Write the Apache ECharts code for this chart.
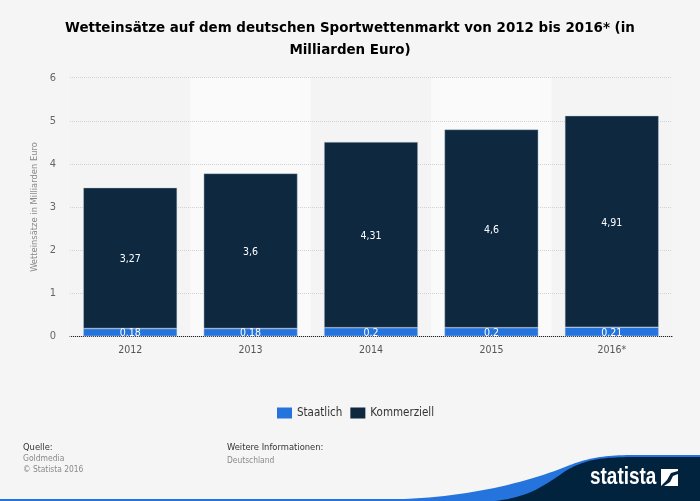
<!DOCTYPE html>
<html><head><meta charset="utf-8">
<style>html,body{margin:0;padding:0;background:#f5f5f5}#c{width:700px;height:501px}</style>
<script src="https://cdn.jsdelivr.net/npm/echarts@6/dist/echarts.min.js"></script></head>
<body><div id="c"></div>
<script>
const categories = ['2012','2013','2014','2015','2016*'];
const staatlich = [0.18,0.18,0.2,0.2,0.21];
const kommerziell = [3.27,3.6,4.31,4.6,4.91];
const staatlichLabels = ['0.18','0.18','0.2','0.2','0.21'];
const kommerziellLabels = ['3,27','3,6','4,31','4,6','4,91'];
const yTicks = [0,1,2,3,4,5,6];
const titleText = 'Wetteinsätze auf dem deutschen Sportwettenmarkt von 2012 bis 2016* (in\nMilliarden Euro)';
const F = '"DejaVu Sans Condensed","DejaVu Sans",sans-serif';
function bez(p0,p1,p2,p3,n=24){const o=[];for(let i=0;i<=n;i++){const t=i/n,u=1-t;
  o.push([u*u*u*p0[0]+3*u*u*t*p1[0]+3*u*t*t*p2[0]+t*t*t*p3[0],u*u*u*p0[1]+3*u*u*t*p1[1]+3*u*t*t*p2[1]+t*t*t*p3[1]]);}return o;}
const swooshBlue = [[0,499],...bez([405,499],[470,496],[525,483],[565,467]),...bez([565,467],[585,459],[600,455],[635,455]).slice(1),[700,455],[700,501],[0,501]];
const swooshDark = [...bez([495,501],[530,497],[545,485],[567,470]),...bez([567,470],[585,460],[600,457],[635,457]).slice(1),[700,457],[700,501]];
const chart = echarts.init(document.getElementById('c'), null, {renderer:'canvas'});
const edge = {borderColor:'rgba(190,205,220,0.75)',borderWidth:0.6};
chart.setOption({
  animation:false,
  backgroundColor:'#f5f5f5',
  textStyle:{fontFamily:F},
  title:{text:titleText,left:'center',top:13,
    textStyle:{fontFamily:'"DejaVu Sans",sans-serif',fontSize:13.45,fontWeight:'bold',color:'#000',lineHeight:21.5}},
  legend:{data:['Staatlich','Kommerziell'],left:272,top:402,itemWidth:15,itemHeight:11,itemGap:8,
    textStyle:{fontFamily:F,fontSize:11.5,color:'#333'},icon:'rect',itemStyle:{borderWidth:0}},
  grid:{left:70,right:28,top:77.7,bottom:164.7},
  xAxis:{type:'category',data:categories,z:1,
    axisLine:{lineStyle:{color:'#222',width:1}},axisTick:{show:false},
    axisLabel:{color:'#555',fontSize:10.5,margin:8,fontFamily:F},
    splitArea:{show:true,areaStyle:{color:['#f4f4f4','#fafafa']}},splitLine:{show:false}},
  yAxis:{type:'value',min:0,max:6,interval:1,z:2,name:'Wetteinsätze in Milliarden Euro',nameLocation:'middle',nameGap:23,
    nameTextStyle:{color:'#888',fontSize:9.3,fontFamily:F},
    axisLine:{show:false},axisTick:{show:false},
    axisLabel:{color:'#666',fontSize:11,margin:14,fontFamily:F,padding:[0,0,3,0],formatter:v=>yTicks.includes(v)?String(v):''},
    splitLine:{lineStyle:{color:'#d2d2d2',type:'dotted',width:1}}},
  series:[
    {name:'Staatlich',type:'bar',stack:'a',data:staatlich,barWidth:'78%',z:3,
      itemStyle:{color:'#2574de',...edge},
      label:{show:true,position:'inside',offset:[0,1],color:'#fff',fontSize:10.5,fontFamily:F,formatter:p=>staatlichLabels[p.dataIndex]}},
    {name:'Kommerziell',type:'bar',stack:'a',data:kommerziell,barWidth:'78%',z:3,
      itemStyle:{color:'#0e2840',...edge},
      label:{show:true,position:'inside',offset:[0,1.5],color:'#fff',fontSize:10.5,fontFamily:F,formatter:p=>kommerziellLabels[p.dataIndex]}}
  ],
  graphic:[
    {type:'polygon',silent:true,z:1,shape:{points:swooshBlue},style:{fill:'#2574de'}},
    {type:'polygon',silent:true,z:2,shape:{points:swooshDark},style:{fill:'#02233d'}},
    {type:'text',silent:true,z:3,x:590,y:465.5,scaleX:0.79,style:{text:'statista',fontFamily:'"Liberation Sans",sans-serif',fontSize:24,fontWeight:'bold',fill:'#fff'}},
    {type:'polygon',silent:true,z:3,shape:{points:[[661,469],[678,469],[678,471],[671,473],[667,480],[661,486]]},style:{fill:'#fff'}},
    {type:'polygon',silent:true,z:3,shape:{points:[[678,486],[664,486],[670,482],[673,476],[678,474]]},style:{fill:'#fff'}},
    {type:'text',silent:true,z:3,left:23,top:443,style:{text:'Quelle:',fontFamily:F,fontSize:9.3,fill:'#333'}},
    {type:'text',silent:true,z:3,left:23,top:454.5,style:{text:'Goldmedia',fontFamily:F,fontSize:8.5,fill:'#8a8a8a'}},
    {type:'text',silent:true,z:3,left:23,top:465.5,style:{text:'© Statista 2016',fontFamily:F,fontSize:8.4,fill:'#8a8a8a'}},
    {type:'text',silent:true,z:3,left:227,top:443.5,style:{text:'Weitere Informationen:',fontFamily:F,fontSize:9.3,fill:'#333'}},
    {type:'text',silent:true,z:3,left:227,top:456.5,style:{text:'Deutschland',fontFamily:F,fontSize:8.4,fill:'#8a8a8a'}}
  ]
});
</script></body></html>
